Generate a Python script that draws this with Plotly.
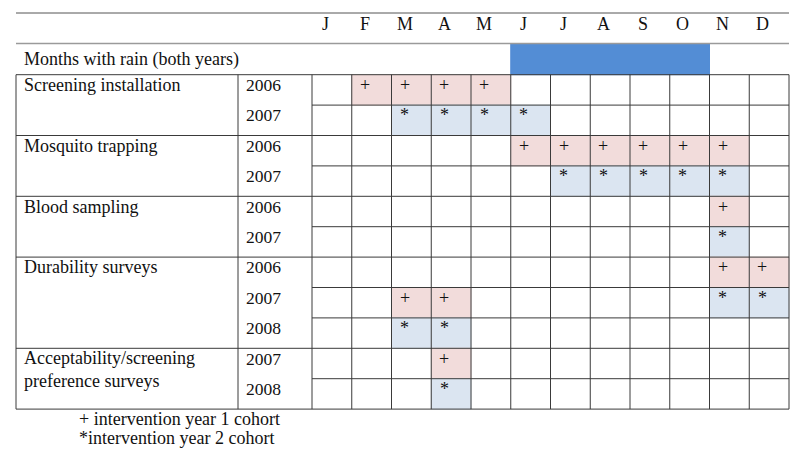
import plotly.graph_objects as go

# ---------------- data ----------------
months = ["J", "F", "M", "A", "M", "J", "J", "A", "S", "O", "N", "D"]
rain_label = "Months with rain (both years)"
rain_months = [0, 0, 0, 0, 0, 1, 1, 1, 1, 1, 0, 0]

activities = ["Screening installation", "Mosquito trapping", "Blood sampling",
              "Durability surveys", "Acceptability/screening<br>preference surveys"]
activity_years = [["2006", "2007"], ["2006", "2007"], ["2006", "2007"],
                  ["2006", "2007", "2008"], ["2007", "2008"]]
# '+' = intervention year 1 cohort, '*' = intervention year 2 cohort, '.' = none
activity_cells = [
    [".++++.......", "..****......"],
    [".....++++++.", "......*****."],
    ["..........+.", "..........*."],
    ["..........++", "..++......**", "..**........"],
    ["...+........", "...*........"],
]
legend_lines = ["+ intervention year 1 cohort", "*intervention year 2 cohort"]

# ---------------- styling ----------------
FONT = "Liberation Serif, Times New Roman, serif"
PINK = "#F2DCDB"
LBLUE = "#DBE5F1"
RAIN = "#538DD5"
LINE = "#3a3a3a"
GREY = "#9a9a9a"

COLW = 39.75   # px per month column
ROWH = 30.4    # px per row
X0 = 312.0     # px of first month column
Y0 = 74.7      # px of first table row
W, H = 800, 461
PAD = 3        # annotation inner padding in px

def px_x(p):
    return (p - X0) / COLW

def px_y(p):
    return (p - Y0) / ROWH

left_x = px_x(16)
year_x = px_x(238)
nm = len(months)

shapes = []
annotations = []

def hline(y, x0, x1, color=LINE, width=1):
    shapes.append(dict(type="line", xref="x", yref="y", x0=x0, x1=x1, y0=y, y1=y,
                       line=dict(color=color, width=width), layer="above"))

def vline(x, y0, y1, color=LINE, width=1):
    shapes.append(dict(type="line", xref="x", yref="y", x0=x, x1=x, y0=y0, y1=y1,
                       line=dict(color=color, width=width), layer="above"))

def rect(x0, x1, y0, y1, color):
    shapes.append(dict(type="rect", xref="x", yref="y", x0=x0, x1=x1, y0=y0, y1=y1,
                       line=dict(width=1, color=color), fillcolor=color, layer="below"))

def text(x, y, s, xanchor="left", size=18):
    if xanchor == "left":
        x -= PAD / COLW
    annotations.append(dict(x=x, y=y, xref="x", yref="y", text=s, showarrow=False,
                            xanchor=xanchor, yanchor="middle", align="left",
                            font=dict(family=FONT, size=size, color="#111")))

# header
head_top = px_y(13)
rain_top = px_y(43.5)
hline(head_top, left_x, nm, color="#555")
hline(rain_top, left_x, nm, color=GREY, width=1.5)
for i, m in enumerate(months):
    text(i + 0.33, px_y(24), m, xanchor="center")

# rain row (contiguous runs as single blocks)
text(px_x(25), px_y(59), rain_label)
i = 0
while i < nm:
    if rain_months[i]:
        j = i
        while j < nm and rain_months[j]:
            j += 1
        rect(i, j, rain_top, 0, RAIN)
        i = j
    else:
        i += 1

# body
row = 0
for act, yrs, cells in zip(activities, activity_years, activity_cells):
    text(px_x(25), row + 0.34 + (0.35 if "<br>" in act else 0), act)
    hline(row, left_x, nm)
    for k, (yr, c) in enumerate(zip(yrs, cells)):
        r = row + k
        text(px_x(247), r + 0.34, yr, size=17.5)
        if k > 0:
            hline(r, 0, nm)
        for i, ch in enumerate(c):
            if ch == "+":
                rect(i, i + 1, r, r + 1, PINK)
            elif ch == "*":
                rect(i, i + 1, r, r + 1, LBLUE)
            if ch in "+*":
                text(i + 0.33, r + 0.34, ch, xanchor="center", size=18)
    row += len(yrs)
nrows = row
hline(nrows, left_x, nm)
vline(left_x, 0, nrows)
vline(year_x, 0, nrows)
for i in range(nm + 1):
    vline(i, 0, nrows)

# legend notes
text(px_x(80), px_y(419), legend_lines[0])
text(px_x(80), px_y(438), legend_lines[1])

fig = go.Figure()
fig.add_trace(go.Scatter(x=[0], y=[0], mode="markers", marker=dict(opacity=0),
                         hoverinfo="skip", showlegend=False))
fig.update_layout(
    width=W, height=H, margin=dict(l=0, r=0, t=0, b=0),
    paper_bgcolor="white", plot_bgcolor="white",
    shapes=shapes, annotations=annotations, showlegend=False,
    xaxis=dict(range=[px_x(0), px_x(W)], visible=False, fixedrange=True),
    yaxis=dict(range=[px_y(H), px_y(0)], visible=False, fixedrange=True),
)
fig.write_html("out.html", config={"displayModeBar": False},
               post_script="document.body.style.margin='0';")
